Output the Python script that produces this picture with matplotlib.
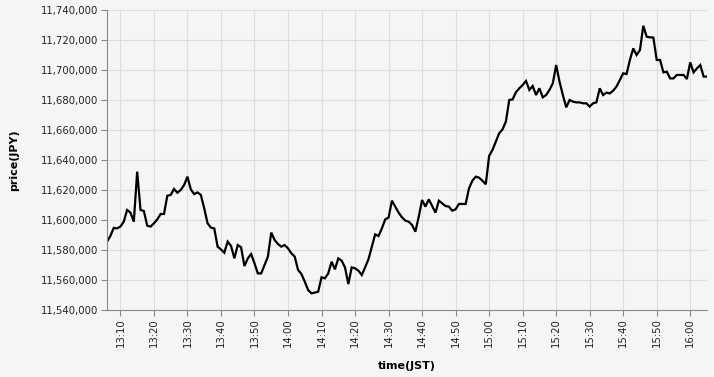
import matplotlib
matplotlib.use("Agg")
import matplotlib.pyplot as plt
import matplotlib.dates as mdates
import matplotlib.ticker as mticker
import pandas as pd

start_time = "2024-01-01 13:06"
prices = [
    11585500, 11589300, 11594700, 11594400, 11595600, 11598900, 11606700, 11604900,
    11598900, 11632200, 11606700, 11606000, 11596200, 11595600, 11597800, 11600400,
    11604000, 11604000, 11616200, 11616700, 11620700, 11618200, 11620000, 11623300,
    11628900, 11620400, 11617300, 11618400, 11616700, 11607800, 11597800, 11594900,
    11594400,
    # 13:39
    11582200, 11580400, 11578200, 11585600, 11582700, 11574400, 11583300, 11581800,
    11569300, 11574400, 11577300, 11571100, 11564400, 11564400, 11570000, 11575600,
    11591600, 11586700, 11584000, 11582200, 11583300, 11581100, 11577800, 11575600,
    11566700, 11564000, 11558900, 11553300, 11551100, 11551600,
    # 14:09
    11552200, 11561800, 11561100, 11564400, 11572200, 11567100, 11574400, 11572900,
    11568400, 11557300, 11568400, 11567800, 11566200, 11563300, 11568400, 11573800,
    11582200, 11590400, 11589300, 11594400, 11600400, 11601600, 11612900, 11608900,
    11604900, 11601800, 11599600, 11598900, 11596700, 11592200,
    # 14:39
    11602200, 11613300, 11608900, 11613800, 11609300, 11604900, 11612900, 11611100,
    11609300, 11608900, 11606200, 11607100, 11610700, 11610700, 11610700, 11621100,
    11626200, 11628900, 11628200, 11626200, 11623800, 11642700, 11646700, 11652200,
    11657800, 11660400, 11665600, 11680000, 11680400, 11685200,
    # 15:09
    11687800, 11690000, 11692700, 11686700, 11689300, 11683300, 11687800, 11681800,
    11683300, 11686700, 11691100, 11703300, 11692200, 11683300, 11675100, 11680000,
    11678900, 11678400, 11678400, 11677800, 11677800, 11675600, 11677800, 11678400,
    11687800, 11683300, 11684900, 11684400, 11686200, 11689000,
    # 15:39
    11693300, 11697800, 11697300, 11706700, 11714400, 11710000, 11713300, 11729500,
    11722200, 11721800, 11721600, 11706700, 11706700, 11698400, 11698900, 11694400,
    11694400, 11696700, 11696700, 11696700, 11694000, 11705100, 11698400, 11701100,
    11703300, 11695600, 11695600,
]
times = pd.date_range(start_time, periods=len(prices), freq="min")
y_ticks = list(range(11540000, 11740001, 20000))
x_title = "time(JST)"
y_title = "price(JPY)"

BG = "#f5f5f5"
W, H = 714, 377
fig = plt.figure(figsize=(W / 100, H / 100), dpi=100, facecolor=BG)
ax = fig.add_axes([107 / W, (H - 310) / H, 600 / W, 300 / H], facecolor=BG)

ax.plot(times, prices, color="black", linewidth=1.6, solid_joinstyle="miter")

ax.set_xlim(times[0], times[-1])
ax.set_ylim(y_ticks[0], y_ticks[-1])
ax.set_yticks(y_ticks)
ax.yaxis.set_major_formatter(mticker.FuncFormatter(lambda v, p: f"{int(v):,}"))
ax.xaxis.set_major_locator(mdates.MinuteLocator(byminute=range(0, 60, 10)))
ax.xaxis.set_major_formatter(mdates.DateFormatter("%H:%M"))

ax.grid(True, color="#dddddd", linewidth=0.8)
ax.set_axisbelow(True)
for s in ["top", "right"]:
    ax.spines[s].set_visible(False)
for s in ["left", "bottom"]:
    ax.spines[s].set_color("#888888")
    ax.spines[s].set_linewidth(0.8)

ax.tick_params(axis="both", colors="#888888", length=4, width=0.8, labelsize=7.3,
               labelcolor="#222222", pad=2)
plt.setp(ax.get_xticklabels(), rotation=90)

ax.set_xlabel(x_title, fontsize=8, fontweight="bold", va="center")
ax.set_ylabel(y_title, fontsize=8, fontweight="bold", va="center")
ax.xaxis.set_label_coords(0.5, (310 - 366) / 300)
ax.yaxis.set_label_coords((14 - 107) / 600, 0.5)

fig.savefig("out.png", dpi=100, facecolor=BG)
